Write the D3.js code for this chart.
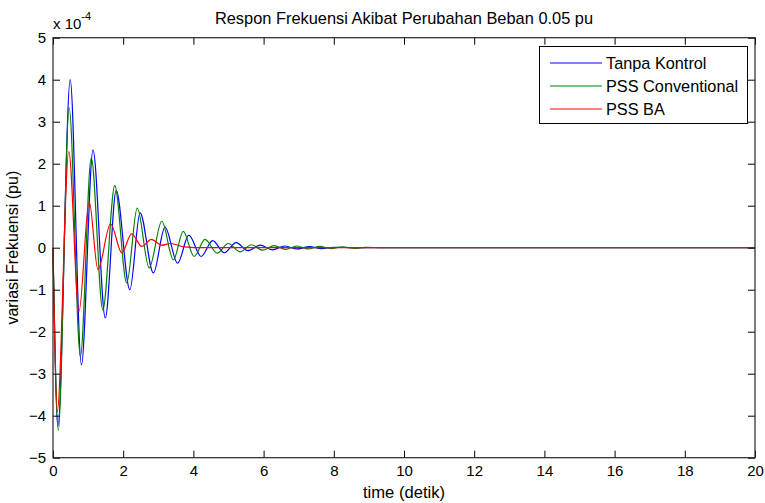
<!DOCTYPE html>
<html>
<head>
<meta charset="utf-8">
<script src="https://cdn.jsdelivr.net/npm/d3@7"></script>
<style>
  html, body { margin: 0; padding: 0; background: #fff; }
  svg { display: block; }
  text { font-family: "Liberation Sans", Arial, sans-serif; fill: #000; }
</style>
</head>
<body>
<svg id="chart" width="765" height="503"></svg>
<script>
// Frequency deviation (x 1e-4 pu) after a 0.05 pu load change.
// Each series is given by its successive peaks and troughs.
const tanpaKontrolT = [0, 0.14, 0.49, 0.81, 1.14, 1.49, 1.80, 2.19, 2.48, 2.86, 3.19, 3.55, 3.87, 4.22, 4.55, 4.88, 5.22, 5.55, 5.9, 6.25, 6.6, 6.95, 7.3, 7.65, 8.0, 8.6, 20];
const tanpaKontrolV = [0, -4.25, 4.0, -2.79, 2.33, -1.67, 1.36, -1.0, 0.83, -0.60, 0.49, -0.37, 0.30, -0.21, 0.17, -0.12, 0.12, -0.07, 0.06, -0.05, 0.04, -0.03, 0.025, -0.02, 0.01, 0, 0];

const pssConvT = [0, 0.15, 0.46, 0.78, 1.09, 1.42, 1.76, 2.10, 2.40, 2.74, 3.10, 3.43, 3.71, 4.02, 4.33, 4.68, 4.99, 5.33, 5.65, 5.97, 6.3, 6.62, 6.95, 7.27, 7.6, 7.92, 8.25, 8.6, 8.9, 9.4, 20];
const pssConvV = [0, -4.35, 3.33, -2.59, 2.14, -1.48, 1.48, -0.84, 0.94, -0.48, 0.63, -0.29, 0.39, -0.21, 0.20, -0.13, 0.10, -0.10, 0.07, -0.06, 0.05, -0.04, 0.04, -0.03, 0.03, -0.02, 0.02, -0.015, 0.01, 0, 0];

const pssBaT = [0, 0.12, 0.45, 0.74, 1.03, 1.28, 1.64, 1.96, 2.24, 2.53, 2.80, 3.10, 3.35, 3.75, 4.3, 20];
const pssBaV = [0, -3.9, 2.29, -1.52, 1.10, -0.52, 0.57, -0.12, 0.33, 0.03, 0.20, 0.06, 0.10, 0.02, 0, 0];

const seriesNames = ["Tanpa Kontrol", "PSS Conventional", "PSS BA"];
const seriesColors = ["#0000ff", "#008000", "#ff0000"];
const seriesT = [tanpaKontrolT, pssConvT, pssBaT];
const seriesV = [tanpaKontrolV, pssConvV, pssBaV];

const xTicks = [0, 2, 4, 6, 8, 10, 12, 14, 16, 18, 20];
const yTicks = [-5, -4, -3, -2, -1, 0, 1, 2, 3, 4, 5];

const titleText = "Respon Frekuensi Akibat Perubahan Beban 0.05 pu";
const xLabel = "time (detik)";
const yLabel = "variasi Frekuensi (pu)";

const svg = d3.select("#chart");
const plotL = 53, plotR = 755, plotT = 37.7, plotB = 457.7;

const x = d3.scaleLinear().domain([0, 20]).range([plotL, plotR]);
const y = d3.scaleLinear().domain([-5, 5]).range([plotB, plotT]);

// data curves
const line = d3.line()
  .x(d => x(d[0])).y(d => y(d[1]))
  .curve(d3.curveMonotoneX);

const plot = svg.append("g");
seriesT.forEach((ts, i) => {
  const pts = ts.map((t, k) => [t, seriesV[i][k]]);
  plot.append("path")
    .attr("d", line(pts))
    .attr("fill", "none")
    .attr("stroke", seriesColors[i])
    .attr("stroke-width", 1.2);
});

// axes, ticks pointing inward on all four sides
const tickFont = 15;
function styleAxis(g) {
  g.select(".domain").remove();
  g.selectAll(".tick line").attr("stroke", "#000").attr("stroke-width", 1);
  g.selectAll(".tick text").style("font-size", tickFont + "px")
    .style("font-family", "'Liberation Sans', Arial, sans-serif").attr("fill", "#000");
}
svg.append("g").attr("transform", `translate(0,${plotB})`)
  .call(d3.axisBottom(x).tickValues(xTicks).tickSize(-7).tickPadding(8).tickFormat(d3.format("d")))
  .call(styleAxis);
svg.append("g").attr("transform", `translate(0,${plotT})`)
  .call(d3.axisTop(x).tickValues(xTicks).tickSize(-7).tickFormat(""))
  .call(styleAxis);
svg.append("g").attr("transform", `translate(${plotL},0)`)
  .call(d3.axisLeft(y).tickValues(yTicks).tickSize(-7).tickPadding(7).tickFormat(d3.format("d")))
  .call(styleAxis);
svg.append("g").attr("transform", `translate(${plotR},0)`)
  .call(d3.axisRight(y).tickValues(yTicks).tickSize(-7).tickFormat(""))
  .call(styleAxis);

// box
svg.append("rect").attr("x", plotL).attr("y", plotT)
  .attr("width", plotR - plotL).attr("height", plotB - plotT)
  .attr("fill", "none").attr("stroke", "#262626").attr("stroke-width", 1.2);

// exponent marker
const expo = svg.append("text").attr("x", plotL).attr("y", 29).style("font-size", "15px");
expo.append("tspan").text("x 10");
expo.append("tspan").attr("dy", -9).style("font-size", "11px").text("-4");

// title and axis labels
svg.append("text").attr("x", (plotL + plotR) / 2).attr("y", 24)
  .attr("text-anchor", "middle").style("font-size", "16.4px").text(titleText);
svg.append("text").attr("x", (plotL + plotR) / 2).attr("y", 498)
  .attr("text-anchor", "middle").style("font-size", "16.6px").text(xLabel);
svg.append("text").attr("transform", `translate(18,${(plotT + plotB) / 2}) rotate(-90)`)
  .attr("text-anchor", "middle").style("font-size", "16px").text(yLabel);

// legend
const lg = svg.append("g");
lg.append("rect").attr("x", 539.5).attr("y", 46.5).attr("width", 208).attr("height", 77)
  .attr("fill", "#fff").attr("stroke", "#000").attr("stroke-width", 1);
seriesNames.forEach((name, i) => {
  const ly = 63 + i * 23;
  lg.append("line").attr("x1", 550).attr("x2", 602).attr("y1", ly).attr("y2", ly)
    .attr("stroke", seriesColors[i]).attr("stroke-width", 1.1);
  lg.append("text").attr("x", 606).attr("y", ly + 5.5).style("font-size", "16.3px").text(name);
});
</script>
</body>
</html>
